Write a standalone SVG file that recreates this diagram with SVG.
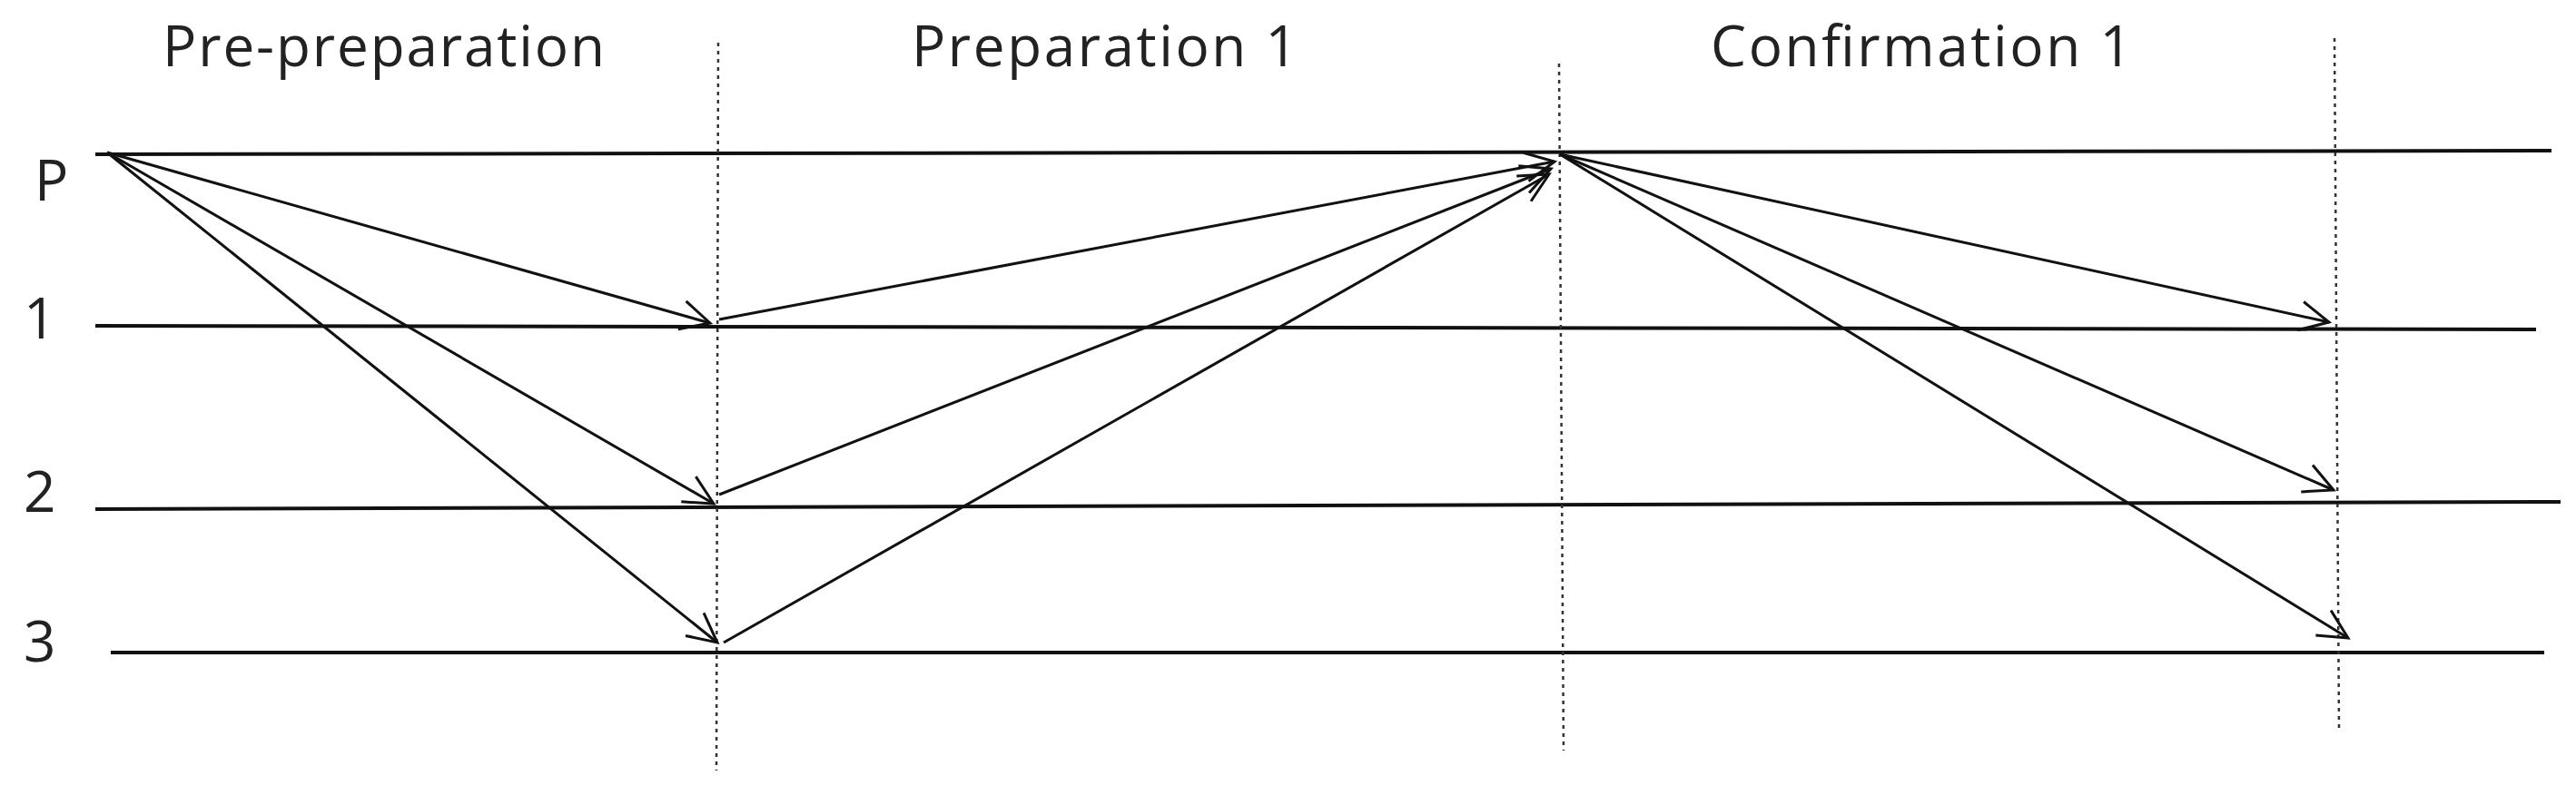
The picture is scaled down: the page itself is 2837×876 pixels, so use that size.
<svg xmlns="http://www.w3.org/2000/svg" width="2837" height="876" viewBox="0 0 2837 876">
<style>
.t{font-family:"Open Sans","Liberation Sans",sans-serif;font-size:62px;fill:#222}
.h{stroke:#111;stroke-width:4;fill:none}
.v{stroke:#333;stroke-width:2.5;stroke-dasharray:4 5;fill:none}
.a{stroke:#111;stroke-width:3;fill:none;marker-end:url(#ah)}
</style>
<defs>
<marker id="ah" markerUnits="userSpaceOnUse" markerWidth="50" markerHeight="50" refX="40" refY="20" orient="auto">
<path d="M8,4 L40,20 L8,36" fill="none" stroke="#111" stroke-width="3"/>
</marker>
</defs>
<rect width="2837" height="876" fill="#fff"/>
<g id="headers">
<text class="t" x="179" y="73" textLength="487">Pre-preparation</text>
<text class="t" x="1004" y="73" textLength="425">Preparation 1</text>
<text class="t" x="1884" y="73" textLength="464">Confirmation 1</text>
</g>
<g id="row-labels">
<text class="t" x="38" y="221">P</text>
<text class="t" x="26" y="373">1</text>
<text class="t" x="26" y="564">2</text>
<text class="t" x="26" y="729">3</text>
</g>
<g id="timelines">
<line class="h" x1="105" y1="170" x2="2810" y2="166"/>
<line class="h" x1="105" y1="359" x2="2793" y2="363"/>
<line class="h" x1="105" y1="561" x2="2820" y2="553"/>
<line class="h" x1="122" y1="719" x2="2802" y2="719"/>
</g>
<g id="phase-boundaries">
<line class="v" x1="791" y1="47" x2="789" y2="849"/>
<line class="v" x1="1717" y1="70" x2="1722" y2="827"/>
<line class="v" x1="2571" y1="42" x2="2576" y2="804"/>
</g>
<g id="connectors">
<line class="a" x1="118" y1="168" x2="782" y2="356"/>
<line class="a" x1="118" y1="168" x2="786" y2="555"/>
<line class="a" x1="118" y1="168" x2="790" y2="708"/>
<line class="a" x1="792" y1="352" x2="1712" y2="178"/>
<line class="a" x1="792" y1="545" x2="1708" y2="186"/>
<line class="a" x1="797" y1="708" x2="1706" y2="192"/>
<line class="a" x1="1718" y1="170" x2="2565" y2="355"/>
<line class="a" x1="1718" y1="170" x2="2570" y2="540"/>
<line class="a" x1="1718" y1="170" x2="2586" y2="703"/>
</g>
</svg>
